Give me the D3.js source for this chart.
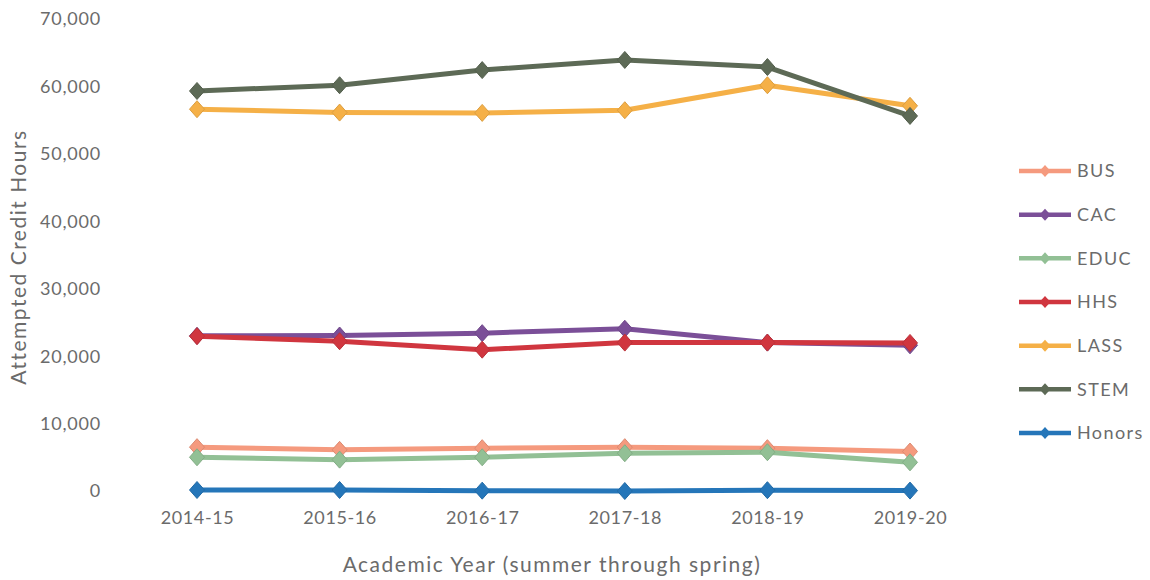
<!DOCTYPE html>
<html>
<head>
<meta charset="utf-8">
<script src="https://cdn.jsdelivr.net/npm/d3@7"></script>
<style>
  html, body { margin: 0; padding: 0; background: #fff; }
  svg { display: block; }
  text { font-family: Lato, "Open Sans", sans-serif; fill: #6b6b6b; }
</style>
</head>
<body>
<svg id="chart" width="1150" height="580"></svg>
<script>
// Academic years on the category axis
const years = ["2014-15", "2015-16", "2016-17", "2017-18", "2018-19", "2019-20"];

// Attempted credit hours per college
const bus    = [6500, 6100, 6350, 6500, 6350, 5850];
const cac    = [23000, 23050, 23400, 24050, 22000, 21600];
const educ   = [5000, 4650, 5000, 5600, 5750, 4250];
const hhs    = [22950, 22200, 20950, 22000, 22000, 21950];
const lass   = [56600, 56100, 56050, 56450, 60150, 57100];
const stem   = [59300, 60150, 62400, 63900, 62850, 55600];
const honors = [150, 150, 50, 0, 120, 60];

const yTicks = [0, 10000, 20000, 30000, 40000, 50000, 60000, 70000];

const series = [
  { name: "BUS",    values: bus,    color: "#f59a7e" },
  { name: "CAC",    values: cac,    color: "#7b4f98" },
  { name: "EDUC",   values: educ,   color: "#92c095" },
  { name: "HHS",    values: hhs,    color: "#d0363f" },
  { name: "LASS",   values: lass,   color: "#f5b047" },
  { name: "STEM",   values: stem,   color: "#5d6a56" },
  { name: "Honors", values: honors, color: "#2576b9" }
];

const svg = d3.select("#chart");

const x = d3.scalePoint().domain(years).range([197, 910]);
const y = d3.scaleLinear().domain([0, 70000]).range([491, 18.8]);

// Value axis (labels only)
const yAxis = svg.append("g")
  .attr("transform", "translate(101,0)")
  .call(d3.axisLeft(y).tickValues(yTicks).tickFormat(d3.format(",")).tickSize(0).tickPadding(0));
yAxis.select(".domain").remove();
yAxis.selectAll("text")
  .style("font-size", "18px")
  .style("letter-spacing", "0.8px")
  .attr("fill", "#6b6b6b")
  .attr("dy", "0.33em");

// Category axis (labels only)
const xAxis = svg.append("g")
  .attr("transform", "translate(0,510)")
  .call(d3.axisBottom(x).tickSize(0).tickPadding(0));
xAxis.select(".domain").remove();
xAxis.selectAll("text")
  .style("font-size", "18px")
  .style("letter-spacing", "0.6px")
  .attr("fill", "#6b6b6b")
  .attr("dy", "0.75em");

// Axis titles
svg.append("text")
  .attr("transform", "translate(26,257) rotate(-90)")
  .attr("text-anchor", "middle")
  .style("font-size", "21px")
  .style("letter-spacing", "1.5px")
  .text("Attempted  Credit Hours");

svg.append("text")
  .attr("x", 552)
  .attr("y", 572)
  .attr("text-anchor", "middle")
  .style("font-size", "21px")
  .style("letter-spacing", "1.5px")
  .text("Academic Year (summer through spring)");

// Lines with diamond markers
const line = d3.line()
  .x((d, i) => x(years[i]))
  .y(d => y(d));

const diamond = (w, h) => `M0,${-h / 2}L${w / 2},0L0,${h / 2}L${-w / 2},0Z`;

const gSeries = svg.append("g");
series.forEach(s => {
  const g = gSeries.append("g");
  g.append("path")
    .datum(s.values)
    .attr("d", line)
    .attr("fill", "none")
    .attr("stroke", s.color)
    .attr("stroke-width", 5)
    .attr("stroke-linejoin", "round");
  g.selectAll("path.mk")
    .data(s.values)
    .join("path")
    .attr("class", "mk")
    .attr("transform", (d, i) => `translate(${x(years[i])},${y(d)})`)
    .attr("d", diamond(15, 17))
    .attr("fill", s.color)
    .attr("stroke", d3.color(s.color).darker(0.3))
    .attr("stroke-width", 1);
});

// Legend
const legend = svg.append("g");
const legendY = d3.scalePoint().domain(series.map(s => s.name)).range([171, 433]);
series.forEach(s => {
  const g = legend.append("g").attr("transform", `translate(0,${legendY(s.name)})`);
  g.append("line")
    .attr("x1", 1019).attr("x2", 1071)
    .attr("stroke", s.color).attr("stroke-width", 4.5);
  g.append("path")
    .attr("transform", "translate(1045,0)")
    .attr("d", diamond(11, 12))
    .attr("fill", s.color);
  g.append("text")
    .attr("x", 1077)
    .attr("dy", "0.36em")
    .style("font-size", "18px")
    .style("letter-spacing", "1.4px")
    .text(s.name);
});
</script>
</body>
</html>
